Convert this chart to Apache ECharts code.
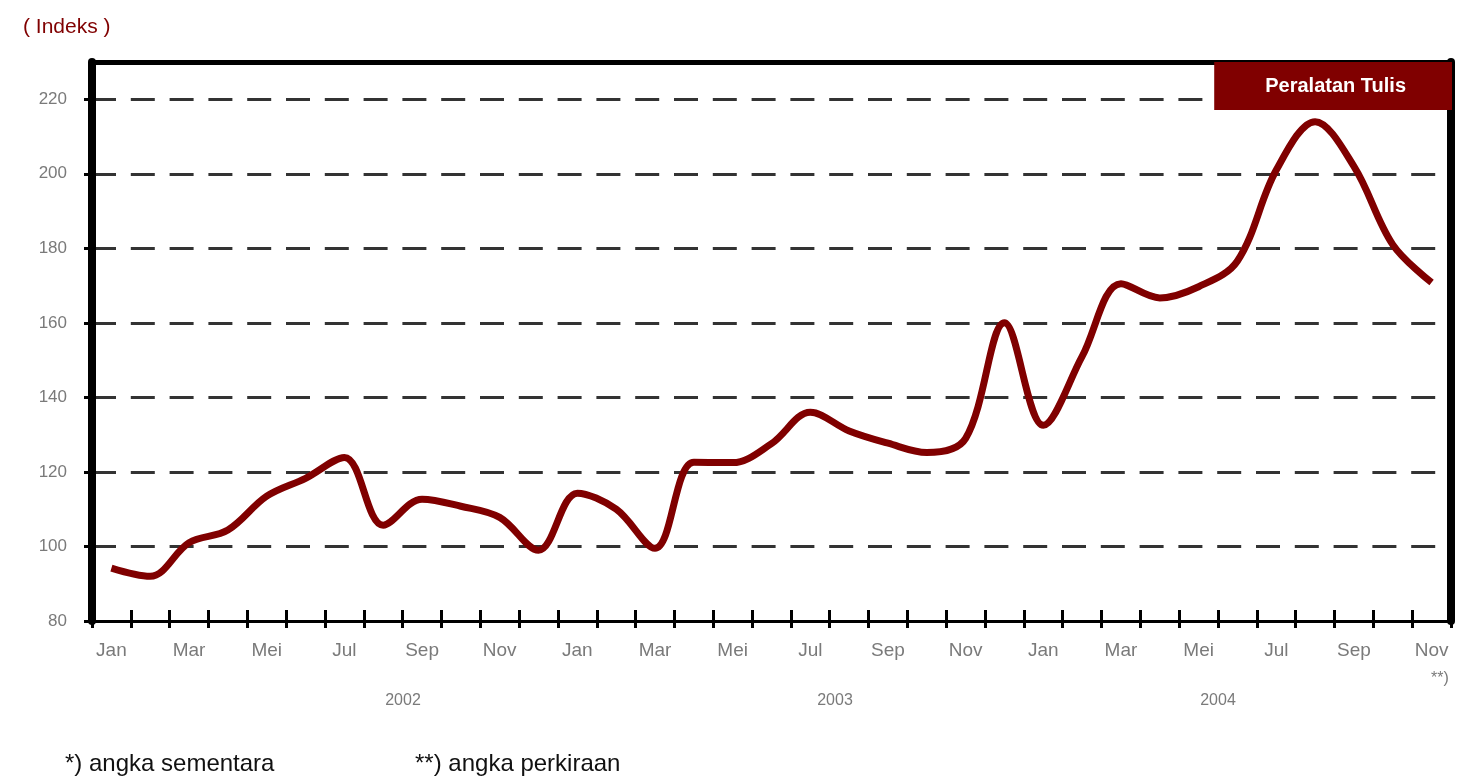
<!DOCTYPE html>
<html>
<head>
<meta charset="utf-8">
<script src="https://cdn.jsdelivr.net/npm/echarts@6/dist/echarts.min.js"></script>
<style>
  html, body { margin: 0; padding: 0; background: #fff; }
  #chart { width: 1461px; height: 778px; }
</style>
</head>
<body>
<div id="chart"></div>
<script>
// bulan Jan 2002 - Nov 2004
const months = [
  'Jan', 'Feb', 'Mar', 'Apr', 'Mei', 'Jun', 'Jul', 'Agu', 'Sep', 'Okt', 'Nov', 'Des',
  'Jan', 'Feb', 'Mar', 'Apr', 'Mei', 'Jun', 'Jul', 'Agu', 'Sep', 'Okt', 'Nov', 'Des',
  'Jan', 'Feb', 'Mar', 'Apr', 'Mei', 'Jun', 'Jul', 'Agu', 'Sep', 'Okt', 'Nov'
]
// indeks peralatan tulis
const indexValues = [
  94.2, 92.0, 101.0, 104.4, 113.5, 118.3, 123.9, 105.7, 112.7, 110.8, 107.8, 99.0,
  114.3, 110.0, 99.5, 122.6, 122.5, 127.6, 136.0, 131.0, 127.7, 125.2, 129.0, 160.0,
  132.5, 151.0, 170.5, 166.7, 169.7, 176.6, 201.0, 214.0, 202.0, 181.0, 170.8
]
const yearLabels = ['2002', '2003', '2004']
const seriesName = 'Peralatan Tulis'

const chart = echarts.init(document.getElementById('chart'))

const labelGray = '#7a7a7a'
const font = 'Arial, "Liberation Sans", sans-serif'

const option = {
  animation: false,
  title: {
    text: '( Indeks )',
    left: 18,
    top: 12,
    textStyle: { color: '#800000', fontSize: 21, fontWeight: 'normal', fontFamily: font }
  },
  legend: {
    data: [seriesName],
    right: 9,
    top: 62,
    selectedMode: false,
    backgroundColor: '#800000',
    padding: [14, 46, 14, 46],
    itemWidth: 0,
    itemHeight: 0,
    icon: 'rect',
    textStyle: { color: '#fff', fontSize: 20, fontWeight: 'bold', fontFamily: font }
  },
  grid: { left: 92, right: 10, top: 62, bottom: 157 },
  xAxis: [
    {
      type: 'category',
      data: months,
      boundaryGap: true,
      axisLine: { lineStyle: { color: '#000', width: 3 } },
      axisTick: { show: true, interval: 0, inside: true, length: 11, lineStyle: { color: '#000', width: 3 } },
      axisLabel: {
        interval: 1,
        color: labelGray,
        fontSize: 19,
        fontFamily: font,
        margin: 20
      },
      splitLine: { show: false }
    },
    {
      type: 'category',
      data: months,
      position: 'bottom',
      boundaryGap: true,
      axisLine: { show: false },
      axisTick: { show: true, interval: 0, length: 7, lineStyle: { color: '#000', width: 3 } },
      axisLabel: { show: false }
    },
    {
      type: 'category',
      data: months,
      position: 'top',
      axisLine: { lineStyle: { color: '#000', width: 5 } },
      axisTick: { show: false },
      axisLabel: { show: false }
    }
  ],
  yAxis: [
    {
      type: 'value',
      min: 80,
      max: 230,
      interval: 20,
      axisLine: { show: true, lineStyle: { color: '#000', width: 8 } },
      axisTick: { show: true, length: 8, lineStyle: { color: '#000', width: 3 } },
      axisLabel: {
        color: labelGray,
        fontSize: 17,
        fontFamily: font,
        margin: 25,
        showMaxLabel: false,
        formatter: v => (v > 220 ? '' : String(v))
      },
      splitLine: {
        show: true,
        lineStyle: { color: '#333', width: 3, type: [24, 14.8] }
      }
    },
    {
      type: 'value',
      position: 'right',
      min: 80,
      max: 230,
      axisLine: { show: true, lineStyle: { color: '#000', width: 8 } },
      axisTick: { show: false },
      axisLabel: { show: false },
      splitLine: { show: false }
    }
  ],
  series: [
    {
      name: seriesName,
      type: 'line',
      data: indexValues,
      smooth: 0.35,
      showSymbol: false,
      symbol: 'none',
      color: '#800000',
      lineStyle: { color: '#800000', width: 7 },
      z: 5
    }
  ],
  graphic: [
    { type: 'text', x: 403, y: 701, style: { text: yearLabels[0], align: 'center', verticalAlign: 'middle', fill: labelGray, font: '16px ' + font } },
    { type: 'text', x: 835, y: 701, style: { text: yearLabels[1], align: 'center', verticalAlign: 'middle', fill: labelGray, font: '16px ' + font } },
    { type: 'text', x: 1218, y: 701, style: { text: yearLabels[2], align: 'center', verticalAlign: 'middle', fill: labelGray, font: '16px ' + font } },
    { type: 'text', x: 1440, y: 679, style: { text: '**)', align: 'center', verticalAlign: 'middle', fill: labelGray, font: '16px ' + font } },
    { type: 'text', x: 65, y: 764, style: { text: '*) angka sementara', align: 'left', verticalAlign: 'middle', fill: '#111', font: '24px ' + font } },
    { type: 'text', x: 415, y: 764, style: { text: '**) angka perkiraan', align: 'left', verticalAlign: 'middle', fill: '#111', font: '24px ' + font } }
  ]
}

chart.setOption(option)
</script>
</body>
</html>
